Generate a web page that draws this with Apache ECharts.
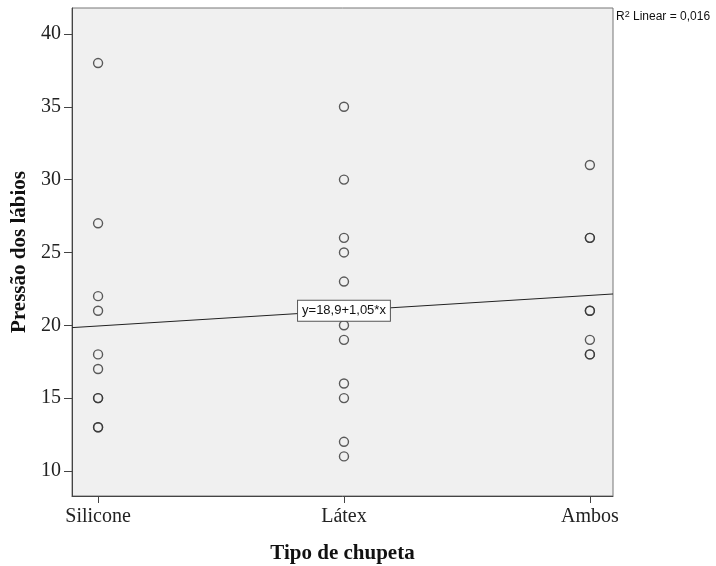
<!DOCTYPE html>
<html><head><meta charset="utf-8">
<script src="https://cdn.jsdelivr.net/npm/echarts@6/dist/echarts.min.js"></script>
<style>html,body{margin:0;padding:0;background:#fff}#c{width:716px;height:566px}</style>
</head><body><div id="c"></div>
<script>
const categories = ['Silicone', 'Látex', 'Ambos'];
const siliconeValues = [38, 27, 22, 21, 18, 17, 15, 15, 13, 13];
const latexValues = [35, 30, 26, 25, 23, 20, 19, 16, 15, 12, 11];
const ambosValues = [31, 26, 26, 21, 21, 19, 18, 18];
const yTicks = [10, 15, 20, 25, 30, 35, 40];
const fitIntercept = 18.9;
const fitSlope = 1.05;
const fitLabel = 'y=18,9+1,05*x';
const r2Label = '0,016';

const groups = [siliconeValues, latexValues, ambosValues];
const points = [];
groups.forEach((vals, i) => vals.forEach(v => points.push([i + 1, v])));
const xMin = 0.894, xMax = 3.094;
const lineData = [xMin, 2, xMax].map(x => [x, fitIntercept + fitSlope * x]);

const serif = '"Liberation Serif", "DejaVu Serif", serif';
const sans = 'Arial, "Liberation Sans", sans-serif';
const chart = echarts.init(document.getElementById('c'));
chart.setOption({
  animation: false,
  backgroundColor: '#fff',
  grid: { left: 72, right: 103, top: 8, bottom: 70, outerBoundsMode: 'none', containLabel: false, show: true, backgroundColor: '#f0f0f0', borderColor: '#777', borderWidth: 1 },
  xAxis: {
    type: 'value', min: xMin, max: xMax,
    name: 'Tipo de chupeta', nameLocation: 'middle', nameGap: 47,
    nameTextStyle: { fontFamily: serif, fontWeight: 'bold', fontSize: 21, color: '#111' },
    splitLine: { show: false },
    axisLine: { show: true, lineStyle: { color: '#444', width: 1 } },
    axisTick: { show: true, customValues: [1, 2, 3], length: 7, lineStyle: { color: '#444' } },
    axisLabel: { customValues: [1, 2, 3], formatter: v => categories[Math.round(v) - 1] || '', fontFamily: serif, fontSize: 20, color: '#222', margin: 11 }
  },
  yAxis: {
    type: 'value', min: 8.28, max: 41.78,
    name: 'Pressão dos lábios', nameLocation: 'middle', nameGap: 34,
    nameTextStyle: { fontFamily: serif, fontWeight: 'bold', fontSize: 21, color: '#111' },
    splitLine: { show: false },
    axisLine: { show: true, lineStyle: { color: '#444', width: 1 } },
    axisTick: { show: true, customValues: yTicks, length: 8, lineStyle: { color: '#444' } },
    axisLabel: { customValues: yTicks, fontFamily: serif, fontSize: 20, color: '#222', margin: 11 }
  },
  series: [
    {
      type: 'line', data: lineData, symbol: 'none', silent: true,
      lineStyle: { color: '#222', width: 1 },
      label: { show: false },
      z: 3,
      markPoint: {
        symbol: 'rect', symbolSize: 0,
        data: [{ coord: [2, fitIntercept + fitSlope * 2], value: fitLabel }],
        label: {
          show: true, position: 'inside', formatter: fitLabel,
          fontFamily: sans, fontSize: 13, color: '#111',
          backgroundColor: '#fff', borderColor: '#555', borderWidth: 1, padding: [4, 4, 3, 4]
        }
      }
    },
    {
      type: 'scatter', data: points, symbol: 'circle', symbolSize: 9,
      itemStyle: { color: 'transparent', borderColor: '#333', borderWidth: 1.4 },
      z: 2
    }
  ],
  graphic: [{
    type: 'text', left: 616, top: 10,
    style: {
      text: '{a|R}{s|2}{a| Linear = ' + r2Label + '}',
      rich: {
        a: { fontFamily: sans, fontSize: 12, fill: '#111' },
        s: { fontFamily: sans, fontSize: 9, fill: '#111', verticalAlign: 'top', padding: [0, 0, 5, 0] }
      }
    }
  }]
});
</script></body></html>
